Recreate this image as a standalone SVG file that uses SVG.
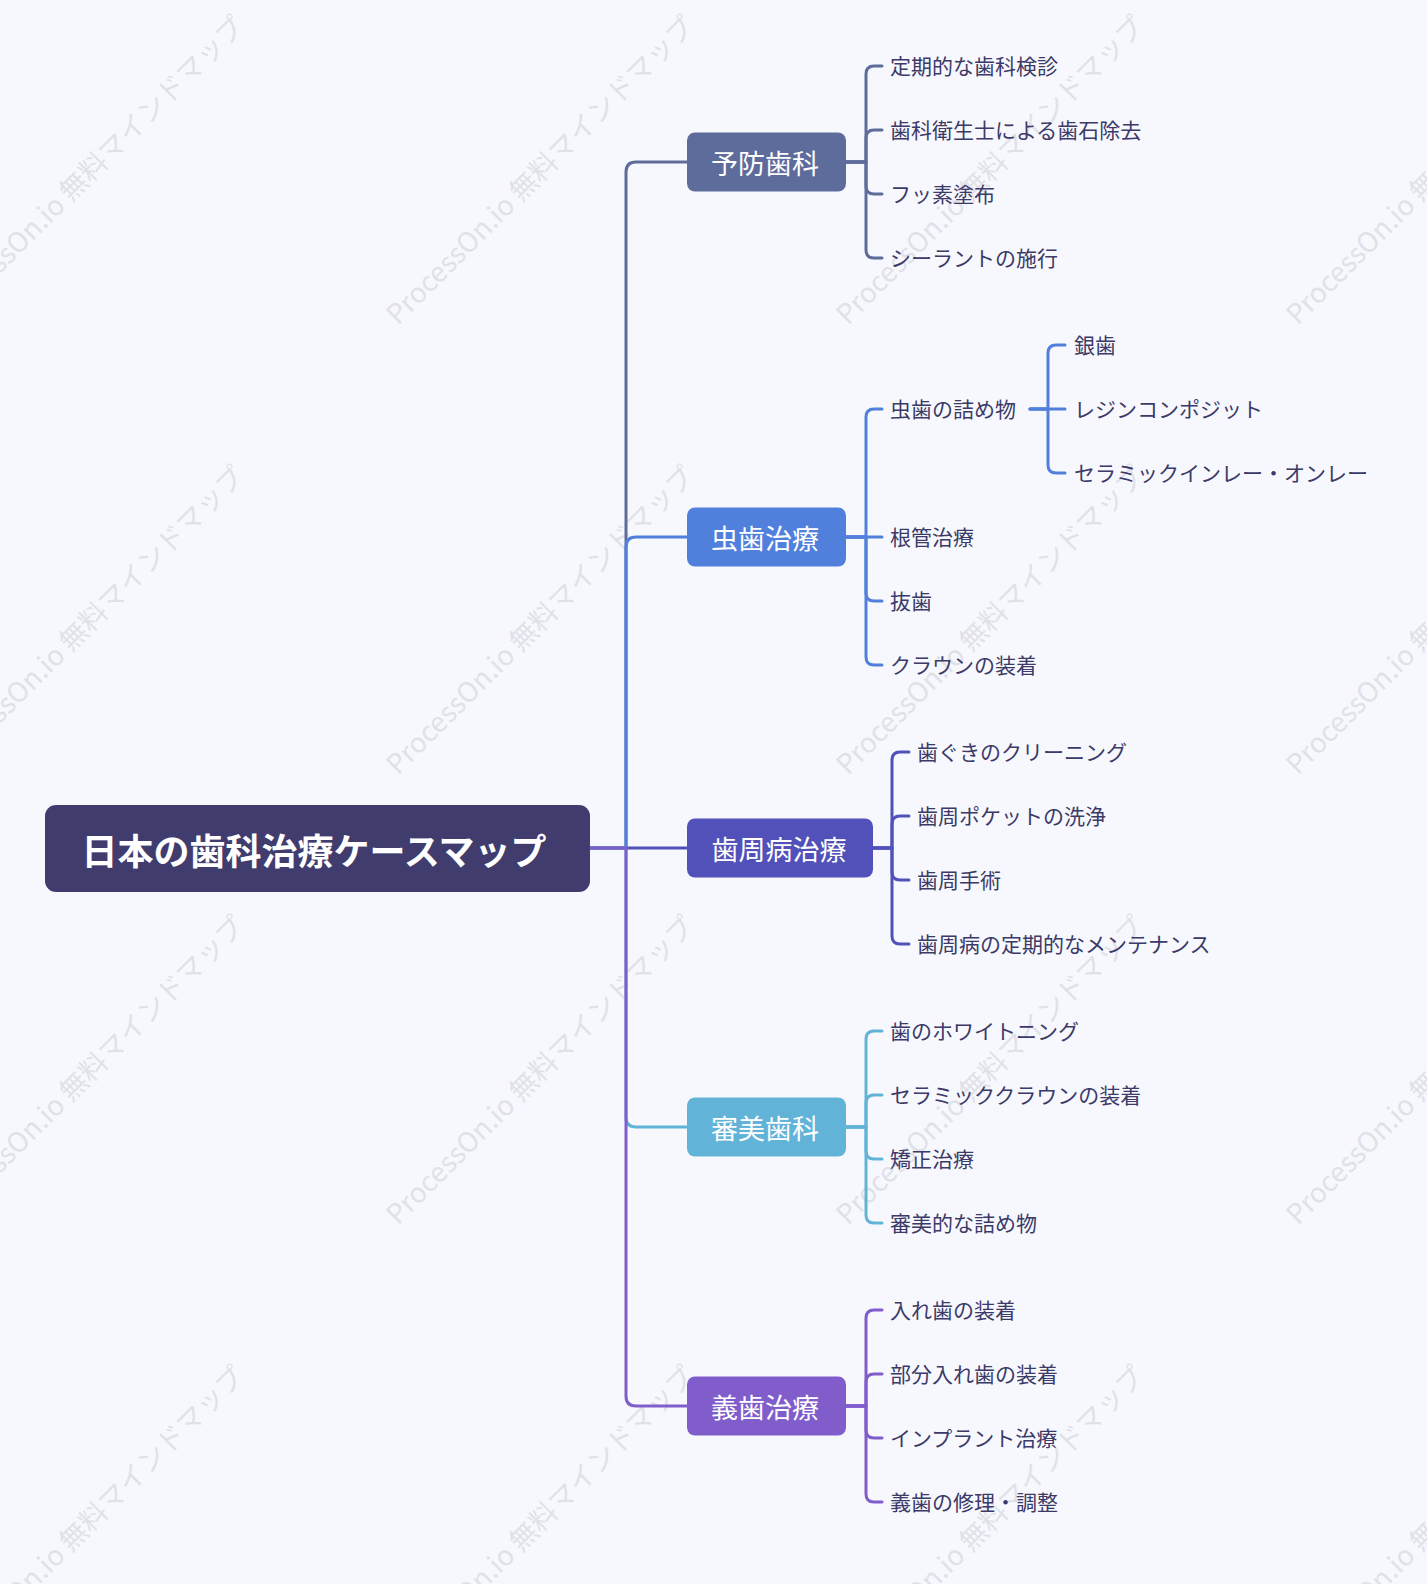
<svg xmlns="http://www.w3.org/2000/svg" width="1427" height="1584" viewBox="0 0 1427 1584">
<style>
.wm{font-family:"Noto Sans CJK JP","Noto Sans",sans-serif;font-size:27.5px;fill:#cfd0d8;opacity:0.55}
.leaf{font-family:"Noto Sans CJK JP",sans-serif;font-size:21px;fill:#3b3a68;dominant-baseline:central}
.ntext{font-family:"Noto Sans CJK JP",sans-serif;font-size:27px;fill:#ffffff;dominant-baseline:central;text-anchor:middle}
.rtext{font-family:"Noto Sans CJK JP",sans-serif;font-size:36px;font-weight:bold;fill:#ffffff;dominant-baseline:central;text-anchor:middle}
.ln{fill:none;stroke-width:3;stroke-linecap:round;stroke-linejoin:round}
.c1{stroke:#5e6c9c}.c2{stroke:#5180dc}.c3{stroke:#5251b9}.c4{stroke:#62b3d8}.c5{stroke:#805dcb}
</style>
<rect x="0" y="0" width="1427" height="1584" fill="#f7f8fd"/>
<g id="watermarks">
<text class="wm" transform="translate(-52,326) rotate(-45)">ProcessOn.io 無料マインドマップ</text>
<text class="wm" transform="translate(398,326) rotate(-45)">ProcessOn.io 無料マインドマップ</text>
<text class="wm" transform="translate(848,326) rotate(-45)">ProcessOn.io 無料マインドマップ</text>
<text class="wm" transform="translate(1298,326) rotate(-45)">ProcessOn.io 無料マインドマップ</text>
<text class="wm" transform="translate(-52,776) rotate(-45)">ProcessOn.io 無料マインドマップ</text>
<text class="wm" transform="translate(398,776) rotate(-45)">ProcessOn.io 無料マインドマップ</text>
<text class="wm" transform="translate(848,776) rotate(-45)">ProcessOn.io 無料マインドマップ</text>
<text class="wm" transform="translate(1298,776) rotate(-45)">ProcessOn.io 無料マインドマップ</text>
<text class="wm" transform="translate(-52,1226) rotate(-45)">ProcessOn.io 無料マインドマップ</text>
<text class="wm" transform="translate(398,1226) rotate(-45)">ProcessOn.io 無料マインドマップ</text>
<text class="wm" transform="translate(848,1226) rotate(-45)">ProcessOn.io 無料マインドマップ</text>
<text class="wm" transform="translate(1298,1226) rotate(-45)">ProcessOn.io 無料マインドマップ</text>
<text class="wm" transform="translate(-52,1676) rotate(-45)">ProcessOn.io 無料マインドマップ</text>
<text class="wm" transform="translate(398,1676) rotate(-45)">ProcessOn.io 無料マインドマップ</text>
<text class="wm" transform="translate(848,1676) rotate(-45)">ProcessOn.io 無料マインドマップ</text>
<text class="wm" transform="translate(1298,1676) rotate(-45)">ProcessOn.io 無料マインドマップ</text>
</g>
<g id="connectors">
<path class="ln c1" d="M590,848 H626 V172 Q626,162 636,162 H687"/>
<path class="ln c2" d="M590,848 H626 V547 Q626,537 636,537 H687"/>
<path class="ln c3" d="M590,848 H687"/>
<path class="ln c4" d="M590,848 H626 V1117 Q626,1127 636,1127 H687"/>
<path class="ln c5" d="M590,848 H626 V1396 Q626,1406 636,1406 H687"/>
<path class="ln c1" d="M846,162 H866 V74 Q866,66 874,66 H882"/>
<path class="ln c1" d="M846,162 H866 V138 Q866,130 874,130 H882"/>
<path class="ln c1" d="M846,162 H866 V186 Q866,194 874,194 H882"/>
<path class="ln c1" d="M846,162 H866 V250 Q866,258 874,258 H882"/>
<path class="ln c2" d="M846,537 H866 V417 Q866,409 874,409 H882"/>
<path class="ln c2" d="M846,537 H882"/>
<path class="ln c2" d="M846,537 H866 V593 Q866,601 874,601 H882"/>
<path class="ln c2" d="M846,537 H866 V657 Q866,665 874,665 H882"/>
<path class="ln c2" d="M1030,409 H1048 V353 Q1048,345 1056,345 H1065"/>
<path class="ln c2" d="M1030,409 H1065"/>
<path class="ln c2" d="M1030,409 H1048 V465 Q1048,473 1056,473 H1065"/>
<path class="ln c3" d="M873,848 H892 V760 Q892,752 900,752 H909"/>
<path class="ln c3" d="M873,848 H892 V824 Q892,816 900,816 H909"/>
<path class="ln c3" d="M873,848 H892 V872 Q892,880 900,880 H909"/>
<path class="ln c3" d="M873,848 H892 V936 Q892,944 900,944 H909"/>
<path class="ln c4" d="M846,1127 H866 V1039 Q866,1031 874,1031 H882"/>
<path class="ln c4" d="M846,1127 H866 V1103 Q866,1095 874,1095 H882"/>
<path class="ln c4" d="M846,1127 H866 V1151 Q866,1159 874,1159 H882"/>
<path class="ln c4" d="M846,1127 H866 V1215 Q866,1223 874,1223 H882"/>
<path class="ln c5" d="M846,1406 H866 V1318 Q866,1310 874,1310 H882"/>
<path class="ln c5" d="M846,1406 H866 V1382 Q866,1374 874,1374 H882"/>
<path class="ln c5" d="M846,1406 H866 V1430 Q866,1438 874,1438 H882"/>
<path class="ln c5" d="M846,1406 H866 V1494 Q866,1502 874,1502 H882"/>
</g>
<g id="root">
<rect x="45" y="805" width="545" height="87" rx="11" fill="#403d6e"/>
<text class="rtext" x="314" y="849">日本の歯科治療ケースマップ</text>
</g>
<g id="n-yobo">
<rect x="687" y="132.5" width="159" height="59" rx="8" fill="#5e6c9c"/>
<text class="ntext" x="765" y="162">予防歯科</text>
</g>
<g id="n-mushiba">
<rect x="687" y="507.5" width="159" height="59" rx="8" fill="#5180dc"/>
<text class="ntext" x="765" y="537">虫歯治療</text>
</g>
<g id="n-shishu">
<rect x="687" y="818.5" width="186" height="59" rx="8" fill="#5251b9"/>
<text class="ntext" x="779" y="848">歯周病治療</text>
</g>
<g id="n-shinbi">
<rect x="687" y="1097.5" width="159" height="59" rx="8" fill="#62b3d8"/>
<text class="ntext" x="765" y="1127">審美歯科</text>
</g>
<g id="n-gishi">
<rect x="687" y="1376.5" width="159" height="59" rx="8" fill="#805dcb"/>
<text class="ntext" x="765" y="1406">義歯治療</text>
</g>
<g id="l-yobo">
<text class="leaf" x="890" y="65">定期的な歯科検診</text>
<text class="leaf" x="890" y="129">歯科衛生士による歯石除去</text>
<text class="leaf" x="890" y="193">フッ素塗布</text>
<text class="leaf" x="890" y="257">シーラントの施行</text>
</g>
<g id="l-mushiba">
<text class="leaf" x="890" y="408">虫歯の詰め物</text>
<text class="leaf" x="890" y="536">根管治療</text>
<text class="leaf" x="890" y="600">抜歯</text>
<text class="leaf" x="890" y="664">クラウンの装着</text>
</g>
<g id="l-tsumemono">
<text class="leaf" x="1074" y="344">銀歯</text>
<text class="leaf" x="1074" y="408">レジンコンポジット</text>
<text class="leaf" x="1074" y="472">セラミックインレー・オンレー</text>
</g>
<g id="l-shishu">
<text class="leaf" x="917" y="751">歯ぐきのクリーニング</text>
<text class="leaf" x="917" y="815">歯周ポケットの洗浄</text>
<text class="leaf" x="917" y="879">歯周手術</text>
<text class="leaf" x="917" y="943">歯周病の定期的なメンテナンス</text>
</g>
<g id="l-shinbi">
<text class="leaf" x="890" y="1030">歯のホワイトニング</text>
<text class="leaf" x="890" y="1094">セラミッククラウンの装着</text>
<text class="leaf" x="890" y="1158">矯正治療</text>
<text class="leaf" x="890" y="1222">審美的な詰め物</text>
</g>
<g id="l-gishi">
<text class="leaf" x="890" y="1309">入れ歯の装着</text>
<text class="leaf" x="890" y="1373">部分入れ歯の装着</text>
<text class="leaf" x="890" y="1437">インプラント治療</text>
<text class="leaf" x="890" y="1501">義歯の修理・調整</text>
</g>
</svg>
